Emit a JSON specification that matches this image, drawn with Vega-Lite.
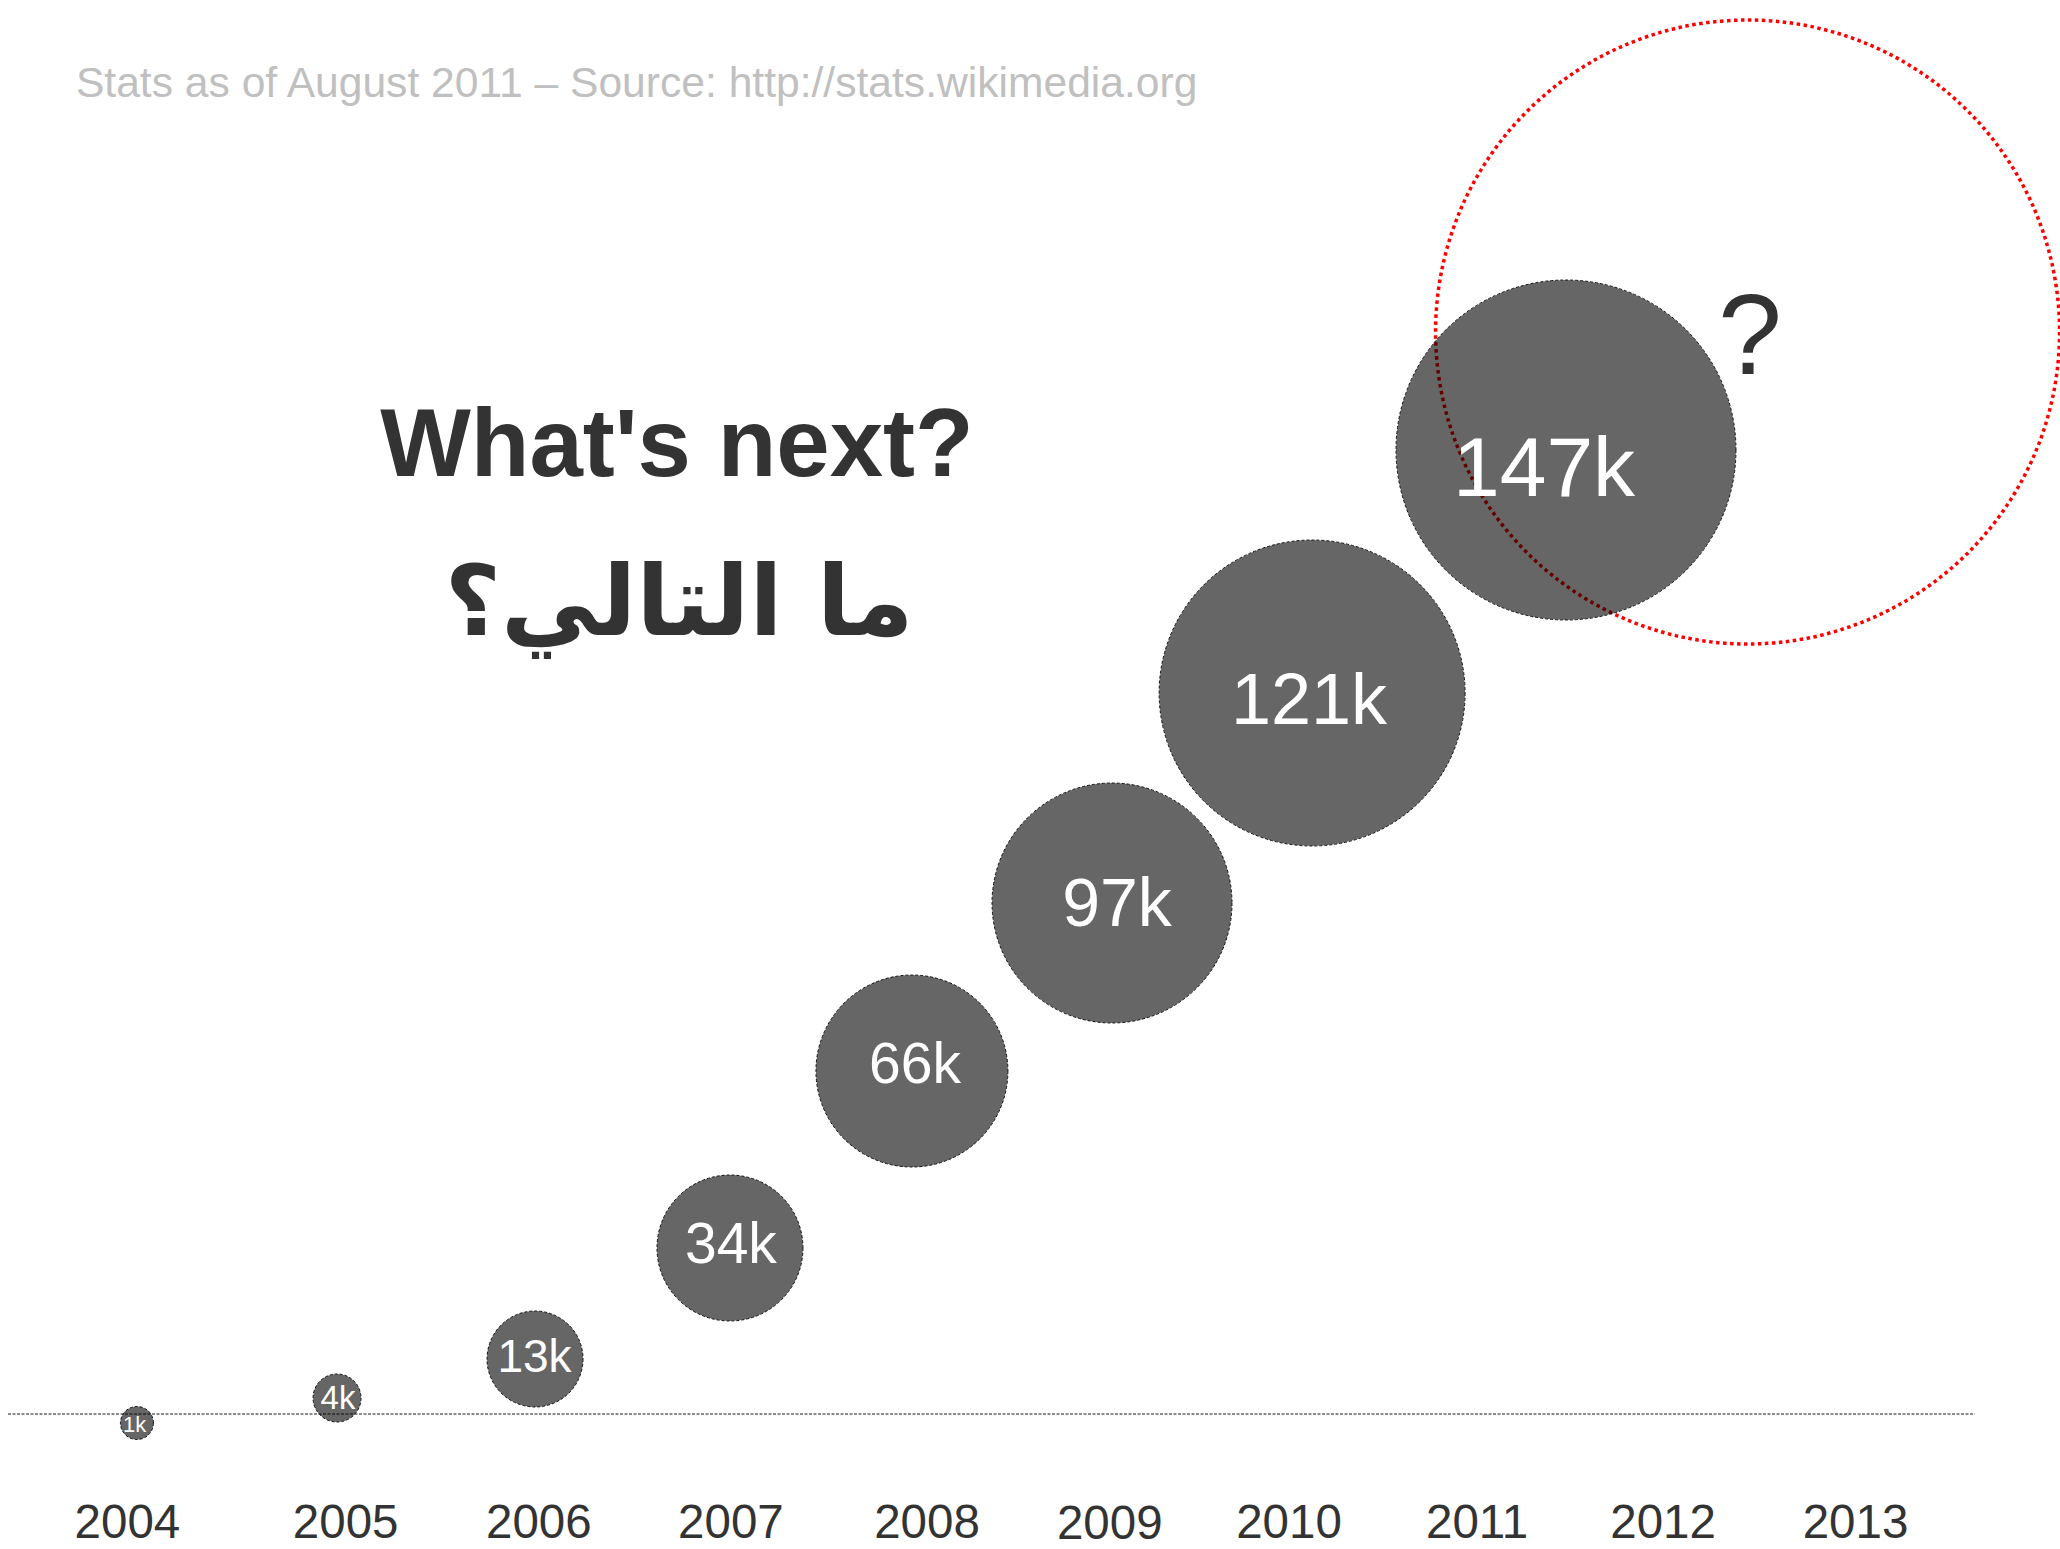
{
  "$schema": "https://vega.github.io/schema/vega-lite/v6.json",
  "width": 2060,
  "height": 1549,
  "padding": 0,
  "autosize": {"type": "none"},
  "background": "#ffffff",
  "config": {"view": {"stroke": null}},
  "datasets": {
    "bubbles": [
      {"users": 1, "label": "1k", "x": 2004.018, "h": -0.9, "lx": 2004.006, "ly": -1.8},
      {"users": 4, "label": "4k", "x": 2005.067, "h": 1.6, "lx": 2005.072, "ly": 0.5},
      {"users": 13, "label": "13k", "x": 2006.105, "h": 5.5, "lx": 2006.102, "ly": 4.2},
      {"users": 34, "label": "34k", "x": 2007.127, "h": 16.6, "lx": 2007.132, "ly": 15.1},
      {"users": 66, "label": "66k", "x": 2008.081, "h": 34.3, "lx": 2008.097, "ly": 33.1},
      {"users": 97, "label": "97k", "x": 2009.13, "h": 51.1, "lx": 2009.156, "ly": 48.8},
      {"users": 121, "label": "121k", "x": 2010.179, "h": 72.1, "lx": 2010.163, "ly": 69.0},
      {"users": 147, "label": "147k", "x": 2011.51, "h": 96.4, "lx": 2011.395, "ly": 91.8}
    ],
    "years": [
      {"year": "2004", "x": 2003.968, "h": -12.4},
      {"year": "2005", "x": 2005.112, "h": -12.4},
      {"year": "2006", "x": 2006.125, "h": -12.4},
      {"year": "2007", "x": 2007.132, "h": -12.4},
      {"year": "2008", "x": 2008.16, "h": -12.4},
      {"year": "2009", "x": 2009.118, "h": -12.5},
      {"year": "2010", "x": 2010.058, "h": -12.4},
      {"year": "2011", "x": 2011.044, "h": -12.4},
      {"year": "2012", "x": 2012.019, "h": -12.4},
      {"year": "2013", "x": 2013.028, "h": -12.4}
    ]
  },
  "layer": [
    {
      "data": {"values": [{"x": 2003.342, "x2": 2013.654, "h": 0}]},
      "mark": {"type": "rule", "color": "#666666", "strokeWidth": 1.7, "strokeDash": [3, 1.5]},
      "encoding": {
        "x": {"field": "x", "type": "quantitative", "axis": null, "scale": {"domain": [2003.3, 2014.1], "nice": false, "zero": false}},
        "x2": {"field": "x2"},
        "y": {"field": "h", "type": "quantitative", "axis": null, "scale": {"domain": [-13.5, 141.4], "nice": false, "zero": false}}
      }
    },
    {
      "data": {"values": [{"x": 2012.462, "h": 108.2}]},
      "mark": {"type": "point", "shape": "circle", "filled": false, "size": 389376, "stroke": "#ff0000", "strokeWidth": 3.5, "strokeDash": [3.5, 3.5], "opacity": 1},
      "encoding": {
        "x": {"field": "x", "type": "quantitative"},
        "y": {"field": "h", "type": "quantitative"}
      }
    },
    {
      "data": {"name": "bubbles"},
      "mark": {"type": "circle", "fill": "#000000", "fillOpacity": 0.6, "stroke": "#000000", "strokeWidth": 1, "strokeDash": [3, 2], "strokeOpacity": 0.9, "opacity": 1},
      "encoding": {
        "x": {"field": "x", "type": "quantitative"},
        "y": {"field": "h", "type": "quantitative"},
        "size": {"field": "users", "type": "quantitative", "legend": null,
          "scale": {"domain": [1, 4, 13, 34, 66, 97, 121, 147], "range": [1089, 2304, 9216, 21316, 36864, 57600, 93636, 115600]}}
      }
    },
    {
      "data": {"name": "bubbles"},
      "mark": {"type": "text", "font": "Liberation Sans", "color": "#ffffff", "align": "center", "baseline": "alphabetic"},
      "encoding": {
        "x": {"field": "lx", "type": "quantitative"},
        "y": {"field": "ly", "type": "quantitative"},
        "text": {"field": "label"},
        "size": {"field": "users", "type": "quantitative", "legend": null,
          "scale": {"domain": [1, 4, 13, 34, 66, 97, 121, 147], "range": [22, 33, 46, 57, 57, 68, 72, 84]}}
      }
    },
    {
      "data": {"name": "years"},
      "mark": {"type": "text", "font": "Liberation Sans", "fontSize": 47.5, "color": "#333333", "align": "center", "baseline": "alphabetic"},
      "encoding": {
        "x": {"field": "x", "type": "quantitative"},
        "y": {"field": "h", "type": "quantitative"},
        "text": {"field": "year"}
      }
    },
    {
      "data": {"values": [{"note": "Stats as of August 2011 – Source: http://stats.wikimedia.org", "x": 2003.698, "h": 131.7}]},
      "mark": {"type": "text", "font": "Liberation Sans", "fontSize": 42.6, "color": "#c0c0c0", "align": "left", "baseline": "alphabetic"},
      "encoding": {
        "x": {"field": "x", "type": "quantitative"},
        "y": {"field": "h", "type": "quantitative"},
        "text": {"field": "note"}
      }
    },
    {
      "data": {"values": [{"note": "What's next?", "x": 2006.849, "h": 93.8}]},
      "mark": {"type": "text", "font": "Liberation Sans", "fontWeight": "bold", "fontSize": 96, "color": "#333333", "align": "center", "baseline": "alphabetic"},
      "encoding": {
        "x": {"field": "x", "type": "quantitative"},
        "y": {"field": "h", "type": "quantitative"},
        "text": {"field": "note"}
      }
    },
    {
      "data": {"values": [{"note": "ما التالي؟", "x": 2006.86, "h": 77.9}]},
      "mark": {"type": "text", "font": "DejaVu Sans", "fontWeight": "bold", "fontSize": 97.5, "color": "#333333", "align": "center", "baseline": "alphabetic"},
      "encoding": {
        "x": {"field": "x", "type": "quantitative"},
        "y": {"field": "h", "type": "quantitative"},
        "text": {"field": "note"}
      }
    },
    {
      "data": {"values": [{"note": "?", "x": 2012.475, "h": 104.0}]},
      "mark": {"type": "text", "font": "Liberation Sans", "fontSize": 115, "color": "#333333", "align": "center", "baseline": "alphabetic"},
      "encoding": {
        "x": {"field": "x", "type": "quantitative"},
        "y": {"field": "h", "type": "quantitative"},
        "text": {"field": "note"}
      }
    }
  ],
  "resolve": {"scale": {"size": "independent"}}
}
